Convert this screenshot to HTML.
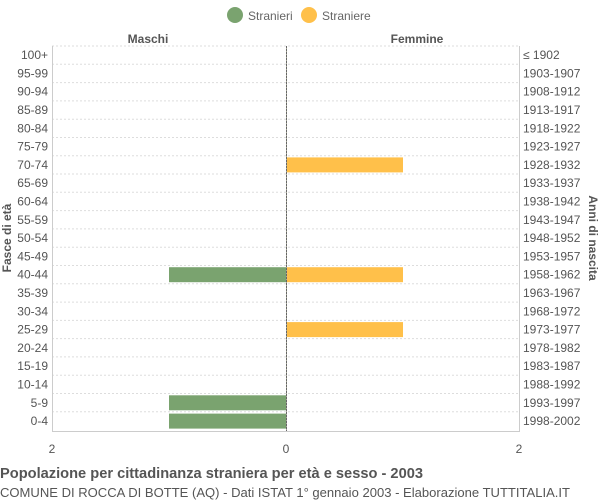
<!DOCTYPE html>
<html><head><meta charset="utf-8"><style>body{margin:0;background:#fff}svg{display:block;font-family:"Liberation Sans",sans-serif}</style></head><body>
<svg width="600" height="500" xmlns="http://www.w3.org/2000/svg">
<circle cx="235" cy="15" r="8" fill="#7aa36f"/><text x="248" y="20" font-size="12" fill="#666">Stranieri</text>
<circle cx="309" cy="15" r="8" fill="#ffc04a"/><text x="322" y="20" font-size="12" fill="#666">Straniere</text>
<text x="148" y="43" font-size="12" font-weight="bold" fill="#555" text-anchor="middle">Maschi</text>
<text x="417" y="43" font-size="12" font-weight="bold" fill="#555" text-anchor="middle">Femmine</text>
<g stroke="#ddd" stroke-dasharray="2,2" stroke-width="1">
<line x1="52" x2="519" y1="46" y2="46"/>
<line x1="52" x2="519" y1="64.3" y2="64.3"/><line x1="52" x2="519" y1="82.6" y2="82.6"/><line x1="52" x2="519" y1="100.9" y2="100.9"/><line x1="52" x2="519" y1="119.2" y2="119.2"/><line x1="52" x2="519" y1="137.5" y2="137.5"/><line x1="52" x2="519" y1="155.7" y2="155.7"/><line x1="52" x2="519" y1="174" y2="174"/><line x1="52" x2="519" y1="192.3" y2="192.3"/><line x1="52" x2="519" y1="210.6" y2="210.6"/><line x1="52" x2="519" y1="228.9" y2="228.9"/><line x1="52" x2="519" y1="247.2" y2="247.2"/><line x1="52" x2="519" y1="265.5" y2="265.5"/><line x1="52" x2="519" y1="283.8" y2="283.8"/><line x1="52" x2="519" y1="302.1" y2="302.1"/><line x1="52" x2="519" y1="320.4" y2="320.4"/><line x1="52" x2="519" y1="338.6" y2="338.6"/><line x1="52" x2="519" y1="356.9" y2="356.9"/><line x1="52" x2="519" y1="375.2" y2="375.2"/><line x1="52" x2="519" y1="393.5" y2="393.5"/><line x1="52" x2="519" y1="411.8" y2="411.8"/>
</g>
<line x1="52.5" x2="52.5" y1="46" y2="431" stroke="#ccc"/>
<line x1="519.5" x2="519.5" y1="46" y2="431" stroke="#ccc"/>
<line x1="52" x2="520" y1="431.5" y2="431.5" stroke="#ccc"/>
<g fill="#ffc04a">
<rect x="286" y="157.4" width="117" height="15"/>
<rect x="286" y="267.2" width="117" height="15"/>
<rect x="286" y="322.1" width="117" height="15"/>
</g>
<g fill="#7aa36f">
<rect x="169" y="267.2" width="117" height="15"/>
<rect x="169" y="395.3" width="117" height="15"/>
<rect x="169" y="413.6" width="117" height="15"/>
</g>
<line x1="286.5" x2="286.5" y1="46" y2="431" stroke="#666" stroke-dasharray="2,1"/>
<line x1="286.5" x2="286.5" y1="46" y2="431" stroke="#aa9" stroke-dasharray="1,2" stroke-dashoffset="1"/>
<g font-size="12" fill="#555" text-anchor="end">
<text x="48" y="59.1">100+</text><text x="48" y="77.4">95-99</text><text x="48" y="95.7">90-94</text><text x="48" y="114">85-89</text><text x="48" y="132.3">80-84</text><text x="48" y="150.6">75-79</text><text x="48" y="168.9">70-74</text><text x="48" y="187.2">65-69</text><text x="48" y="205.5">60-64</text><text x="48" y="223.8">55-59</text><text x="48" y="242.1">50-54</text><text x="48" y="260.4">45-49</text><text x="48" y="278.7">40-44</text><text x="48" y="297">35-39</text><text x="48" y="315.3">30-34</text><text x="48" y="333.6">25-29</text><text x="48" y="351.9">20-24</text><text x="48" y="370.2">15-19</text><text x="48" y="388.5">10-14</text><text x="48" y="406.8">5-9</text><text x="48" y="425.1">0-4</text>
</g>
<g font-size="12" fill="#555">
<text x="523" y="59.1">≤ 1902</text><text x="523" y="77.4">1903-1907</text><text x="523" y="95.7">1908-1912</text><text x="523" y="114">1913-1917</text><text x="523" y="132.3">1918-1922</text><text x="523" y="150.6">1923-1927</text><text x="523" y="168.9">1928-1932</text><text x="523" y="187.2">1933-1937</text><text x="523" y="205.5">1938-1942</text><text x="523" y="223.8">1943-1947</text><text x="523" y="242.1">1948-1952</text><text x="523" y="260.4">1953-1957</text><text x="523" y="278.7">1958-1962</text><text x="523" y="297">1963-1967</text><text x="523" y="315.3">1968-1972</text><text x="523" y="333.6">1973-1977</text><text x="523" y="351.9">1978-1982</text><text x="523" y="370.2">1983-1987</text><text x="523" y="388.5">1988-1992</text><text x="523" y="406.8">1993-1997</text><text x="523" y="425.1">1998-2002</text>
</g>
<g font-size="12" fill="#555" text-anchor="middle">
<text x="52" y="453">2</text><text x="286" y="453">0</text><text x="519" y="453">2</text>
</g>
<text transform="translate(11,238) rotate(-90)" font-size="12" font-weight="bold" fill="#555" text-anchor="middle">Fasce di età</text>
<text transform="translate(589,238) rotate(90)" font-size="12" font-weight="bold" fill="#555" text-anchor="middle">Anni di nascita</text>
<text x="0" y="478" font-size="14.5" font-weight="bold" fill="#555" textLength="423" lengthAdjust="spacingAndGlyphs">Popolazione per cittadinanza straniera per età e sesso - 2003</text>
<text x="0" y="497" font-size="13" fill="#555" textLength="570" lengthAdjust="spacingAndGlyphs">COMUNE DI ROCCA DI BOTTE (AQ) - Dati ISTAT 1° gennaio 2003 - Elaborazione TUTTITALIA.IT</text>
</svg>
</body></html>
